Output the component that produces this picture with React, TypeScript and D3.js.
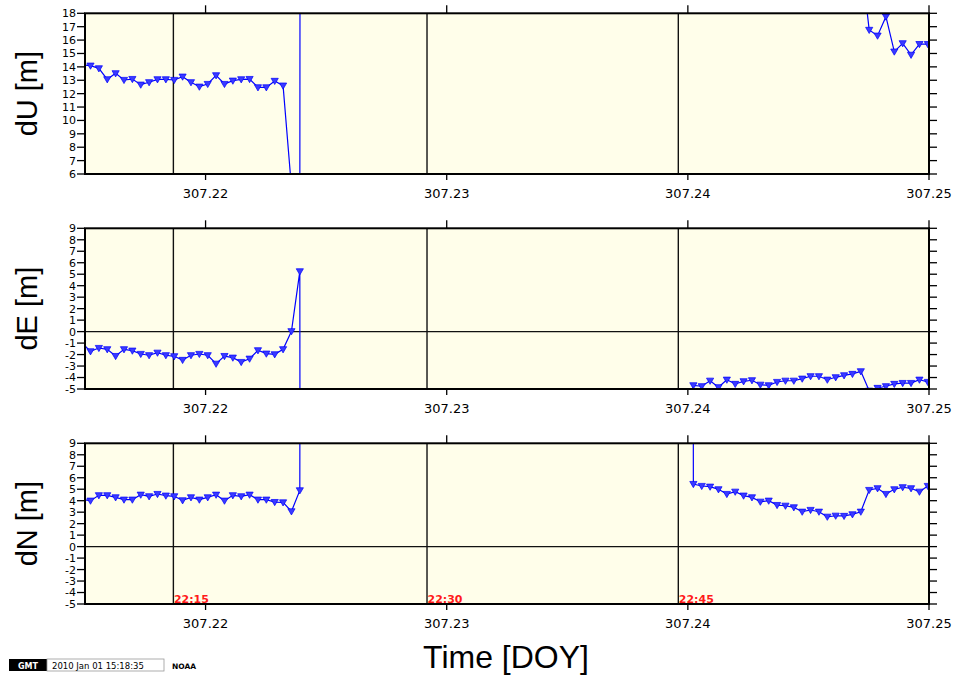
import React from 'react';
import * as d3 from 'd3';

// ---- data ----
const EPOCH0 = 307.215228;           // DOY of first visible epoch (k = 0)
const STEP = 30 / 86400;             // 30 s sampling in days

const X_DOMAIN = [307.215, 307.25];
const X_TICKS = [307.22, 307.23, 307.24, 307.25];
const GRID_DOY = [307.218665, 307.229183, 307.239604];
const GRID_LABELS = ['22:15', '22:30', '22:45'];

const Y_TICKS_U = [6, 7, 8, 9, 10, 11, 12, 13, 14, 15, 16, 17, 18];
const Y_TICKS_EN = [-5, -4, -3, -2, -1, 0, 1, 2, 3, 4, 5, 6, 7, 8, 9];

// dU segments (start = epoch index k)
const dU_A_START = -1;
const dU_A = [14.15, 14.09, 13.89, 13.07, 13.52, 13.02, 13.09, 12.67, 12.85, 13.07, 13.07, 13.02, 13.27, 12.85, 12.52, 12.72, 13.37, 12.72, 12.97, 13.07, 13.09, 12.47, 12.47, 12.95, 12.6, 5.0, 2.0, 900];
const dU_B_START = 92;
const dU_B = [22.25, 16.76, 16.33, 17.75, 15.14, 15.76, 14.9, 15.7, 15.7];

// dE segments
const dE_A_START = -1;
const dE_A = [-1.0, -1.72, -1.43, -1.54, -2.13, -1.54, -1.66, -1.95, -2.06, -1.84, -2.06, -2.15, -2.47, -2.06, -1.95, -2.06, -2.8, -2.13, -2.27, -2.65, -2.36, -1.63, -1.92, -1.98, -1.54, 0.03, 5.25, -900];
const dE_B_START = 71;
const dE_B = [-900, -4.68, -4.76, -4.28, -4.85, -4.19, -4.56, -4.33, -4.24, -4.63, -4.68, -4.39, -4.28, -4.28, -4.1, -3.89, -3.89, -4.19, -3.98, -3.81, -3.69, -3.46, -5.15, -4.91, -4.76, -4.56, -4.48, -4.48, -4.19, -4.39];

// dN segments
const dN_A_START = -1;
const dN_A = [4.1, 4.0, 4.47, 4.47, 4.29, 4.09, 4.09, 4.52, 4.38, 4.58, 4.44, 4.38, 4.03, 4.29, 4.09, 4.29, 4.52, 4.0, 4.47, 4.38, 4.52, 4.09, 4.09, 3.88, 3.85, 3.07, 4.9, 900];
const dN_B_START = 71;
const dN_B = [900, 5.45, 5.28, 5.22, 4.99, 4.58, 4.78, 4.44, 4.29, 3.91, 4.0, 3.62, 3.56, 3.42, 3.04, 3.19, 3.04, 2.6, 2.69, 2.67, 2.81, 3.04, 4.93, 5.08, 4.58, 4.99, 5.17, 5.08, 4.78, 5.28];

type Pt = { t: number; v: number };
const seg = (start: number, vals: number[]): Pt[] =>
  vals.map((v, i) => ({ t: EPOCH0 + (start + i) * STEP, v }));

const PANELS = [
  { title: 'dU [m]', domain: [6, 18], ticks: Y_TICKS_U, zero: false, segs: [seg(dU_A_START, dU_A), seg(dU_B_START, dU_B)] },
  { title: 'dE [m]', domain: [-5, 9], ticks: Y_TICKS_EN, zero: true, segs: [seg(dE_A_START, dE_A), seg(dE_B_START, dE_B)] },
  { title: 'dN [m]', domain: [-5, 9], ticks: Y_TICKS_EN, zero: true, segs: [seg(dN_A_START, dN_A), seg(dN_B_START, dN_B)] },
];

// ---- layout ----
const W = 956, H = 677;
const LEFT = 85, RIGHT = 929;
const PANEL_TOPS = [13.3, 228.3, 443.3];
const PANEL_H = 160.7;
const BG = '#fffeea';
const BLUE = '#0000ff';
const TRI = 'M-3.6,-2.6L3.6,-2.6L0,3.6Z';

export default function App() {
  const x = d3.scaleLinear().domain(X_DOMAIN).range([LEFT, RIGHT]);

  return (
    <svg width={W} height={H} style={{ position: 'absolute', left: 0, top: 0, display: 'block', background: '#fff' }}>
      <defs>
        {PANELS.map((p, i) => (
          <clipPath id={`clip${i}`} key={i}>
            <rect x={LEFT} y={PANEL_TOPS[i]} width={RIGHT - LEFT} height={PANEL_H} />
          </clipPath>
        ))}
      </defs>
      {PANELS.map((p, i) => {
        const top = PANEL_TOPS[i];
        const bottom = top + PANEL_H;
        const y = d3.scaleLinear().domain(p.domain).range([bottom, top]);
        const line = d3.line<Pt>().x(d => x(d.t)).y(d => y(d.v));
        const cy = (top + bottom) / 2;
        return (
          <g key={i}>
            <rect x={LEFT} y={top} width={RIGHT - LEFT} height={PANEL_H} fill={BG} />
            {GRID_DOY.map((g, j) => (
              <line key={j} x1={x(g)} x2={x(g)} y1={top} y2={bottom} stroke="#111" strokeWidth={1.4} />
            ))}
            {p.zero && (
              <line x1={LEFT} x2={RIGHT} y1={y(0)} y2={y(0)} stroke="#111" strokeWidth={1.4} />
            )}
            <g clipPath={`url(#clip${i})`}>
              {p.segs.map((s, j) => (
                <path key={j} d={line(s) || ''} fill="none" stroke={BLUE} strokeWidth={1.2} />
              ))}
              {p.segs.map((s, j) =>
                s.map((d, k) => (
                  <path key={`${j}-${k}`} d={TRI} transform={`translate(${x(d.t)},${y(d.v)})`} fill="#3a3aff" stroke={BLUE} strokeWidth={0.7} />
                ))
              )}
            </g>
            {i === 2 && GRID_DOY.map((g, j) => (
              <text key={j} x={x(g) + 0.5} y={bottom - 1.5} fill="#ff1a1a" fontFamily="DejaVu Sans" fontWeight="bold" fontSize={11}>
                {GRID_LABELS[j]}
              </text>
            ))}
            <rect x={LEFT} y={top} width={RIGHT - LEFT} height={PANEL_H} fill="none" stroke="#000" strokeWidth={2} />
            {/* y ticks */}
            {p.ticks.map(t => (
              <g key={t}>
                <line x1={LEFT - 8} x2={LEFT} y1={y(t)} y2={y(t)} stroke="#000" strokeWidth={1.3} />
                <line x1={RIGHT} x2={RIGHT + 8} y1={y(t)} y2={y(t)} stroke="#000" strokeWidth={1.3} />
                <text x={LEFT - 9} y={y(t)} dy="0.36em" textAnchor="end" fontFamily="DejaVu Sans" fontSize={11} fill="#000">
                  {t}
                </text>
              </g>
            ))}
            {/* x ticks */}
            {X_TICKS.map(t => (
              <g key={t}>
                <line x1={x(t)} x2={x(t)} y1={top - 8} y2={top} stroke="#000" strokeWidth={1.3} />
                <line x1={x(t)} x2={x(t)} y1={bottom} y2={bottom + 6} stroke="#000" strokeWidth={1.3} />
                <text x={x(t)} y={bottom + 24} textAnchor="middle" fontFamily="DejaVu Sans" fontSize={13} fill="#000">
                  {t.toFixed(2)}
                </text>
              </g>
            ))}
            <text transform={`translate(37,${cy}) rotate(-90)`} textAnchor="middle" fontFamily="Liberation Sans" fontSize={29} fill="#000">
              {p.title}
            </text>
          </g>
        );
      })}
      <text x={506} y={668} textAnchor="middle" fontFamily="Liberation Sans" fontSize={32} fill="#000">
        Time [DOY]
      </text>
      {/* GMT timestamp logo */}
      <rect x={9} y={659} width={38} height={12} fill="#000" />
      <text x={28} y={668.5} textAnchor="middle" fontFamily="DejaVu Sans" fontWeight="bold" fontSize={8} fill="#fff">GMT</text>
      <rect x={47} y={659} width={117} height={12} fill="#fff" stroke="#999" strokeWidth={0.8} />
      <text x={52} y={668.5} fontFamily="DejaVu Sans" fontSize={8.5} fill="#000">2010 Jan 01 15:18:35</text>
      <text x={172} y={668.5} fontFamily="DejaVu Sans" fontWeight="bold" fontSize={7.5} fill="#000">NOAA</text>
    </svg>
  );
}
